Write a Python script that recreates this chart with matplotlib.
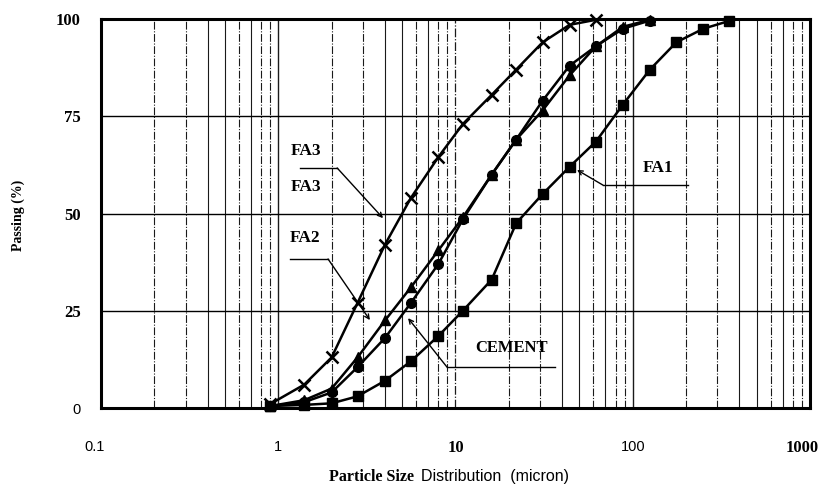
import numpy as np
import matplotlib
matplotlib.use('Agg')
import matplotlib.pyplot as plt
import matplotlib.transforms as mtransforms

# sieve sizes (micron)
size_fa3 = [0.9, 1.4, 2, 2.8, 4, 5.6, 8, 11, 16, 22, 31, 44, 62]
size_mid = [0.9, 1.4, 2, 2.8, 4, 5.6, 8, 11, 16, 22, 31, 44, 62, 88, 125]
size_fa1 = [0.9, 1.4, 2, 2.8, 4, 5.6, 8, 11, 16, 22, 31, 44, 62, 88, 125, 176, 250, 350]

# passing (%)
pass_fa3 = [1, 6, 13, 27, 42, 54, 64.5, 73, 80.5, 87, 94, 98.5, 99.8]
pass_fa2 = [0.5, 2, 5, 13, 22.5, 31, 40.5, 49, 60, 69, 76.5, 85.5, 93, 98, 99.8]
pass_cem = [0.5, 1.5, 4, 10.5, 18, 27, 37, 48.5, 60, 69, 79, 88, 93, 97.5, 99.6]
pass_fa1 = [0.5, 0.8, 1.2, 3, 7, 12, 18.5, 25, 33, 47.5, 55, 62, 68.5, 78, 87, 94, 97.5, 99.5]

xticks = [0.1, 1, 10, 100, 1000]
xtick_labels = ['0.1', '1', '10', '100', '1000']
yticks = [0, 25, 50, 75, 100]

serif = 'Liberation Serif'
sans = 'Liberation Sans'

fig = plt.figure(figsize=(8.29, 4.87), dpi=100)
ax = fig.add_axes([101 / 829, 1 - 408 / 487, 709 / 829, 389 / 487])
ax.set_xscale('log')
ax.set_xlim(0.1, 1000)
ax.set_ylim(0, 100)

# grid (vertical on every minor decade step, horizontal at 25/50/75)
dashdot = (0, (7, 1.5, 1, 1.5))
for dec in [0.1, 1, 10, 100]:
    for k in range(2, 10):
        ls = '-' if k in (4, 5, 7) else dashdot
        ax.axvline(dec * k, color='0.1', lw=0.8, ls=ls, zorder=1)
for v in [1, 100]:
    ax.axvline(v, color='0.1', lw=1.0, zorder=1)
ax.axvline(10, color='0.1', lw=0.9, ls=dashdot, zorder=1)
for h in [25, 50, 75]:
    ax.axhline(h, color='black', lw=1.0, zorder=1)

lk = dict(color='black', lw=1.8, zorder=3, clip_on=False)
ax.plot(size_fa3, pass_fa3, marker='x', ms=9, mew=1.8, **lk)
ax.plot(size_mid, pass_fa2, marker='^', ms=7, **lk)
ax.plot(size_mid, pass_cem, marker='o', ms=7, **lk)
ax.plot(size_fa1, pass_fa1, marker='s', ms=7, **lk)

for s in ax.spines.values():
    s.set_linewidth(2.2)

ax.set_xticks(xticks)
ax.set_xticklabels(xtick_labels)
ax.set_xticks([], minor=True)
ax.set_yticks(yticks)
ax.set_yticklabels([str(v) for v in yticks])
ax.tick_params(axis='both', length=0)
ax.tick_params(axis='y', pad=14.5)
ax.tick_params(axis='x', pad=23)

xfonts = [(sans, 'normal'), (sans, 'normal'), (serif, 'bold'), (sans, 'normal'), (serif, 'bold')]
xshift = [-6, 0, 0, 0, -8]  # px, as placed in the original
for lab, (fam, wt), dx in zip(ax.get_xticklabels(), xfonts, xshift):
    lab.set_family(fam)
    lab.set_weight(wt)
    lab.set_fontsize(12 if wt == 'bold' else 10.5)
    off = mtransforms.ScaledTranslation(dx / 100, 0, fig.dpi_scale_trans)
    lab.set_transform(lab.get_transform() + off)
for i, lab in enumerate(ax.get_yticklabels()):
    if i == 0:
        lab.set_family(sans)
        lab.set_fontsize(10.5)
    else:
        lab.set_family(serif)
        lab.set_weight('bold')
        lab.set_fontsize(12)

# labels with leader lines
tk = dict(fontfamily=serif, fontweight='bold', fontsize=12.5, ha='center', va='center', zorder=5)
ax.text(1.43, 66.1, 'FA3', **tk)
ax.text(1.43, 56.8, 'FA3', **tk)
ax.text(1.42, 43.7, 'FA2', **tk)
ax.text(20.8, 15.4, 'CEMENT', **{**tk, 'fontsize': 12})
ax.text(139, 61.7, 'FA1', **tk)

leaders = [
    ([1.33, 2.15, 3.9], [61.7, 61.7, 48.8]),
    ([1.165, 1.91, 3.29], [38.3, 38.3, 22.6]),
    ([36.4, 8.96, 5.4], [10.5, 10.5, 23.1]),
    ([205, 67.9, 48.5], [57.3, 57.3, 61.2]),
]
for xs, ys in leaders:
    ax.plot(xs[:2], ys[:2], color='black', lw=1.0, zorder=4)
    ax.annotate('', xy=(xs[2], ys[2]), xytext=(xs[1], ys[1]),
                arrowprops=dict(arrowstyle='->', color='black', lw=1.0,
                                shrinkA=0, shrinkB=0, mutation_scale=8), zorder=4)

fig.text(18 / 829, 1 - 215 / 487, 'Passing (%)', rotation=90, ha='center', va='center',
         fontfamily=serif, fontweight='bold', fontsize=10)
fig.text(414 / 829, 1 - 477 / 487, 'Particle Size', ha='right', va='center',
         fontfamily=serif, fontweight='bold', fontsize=11.5)
fig.text(421 / 829, 1 - 477 / 487, 'Distribution  (micron)', ha='left', va='center',
         fontfamily=sans, fontsize=11.5)

fig.savefig('out.png', dpi=100)
